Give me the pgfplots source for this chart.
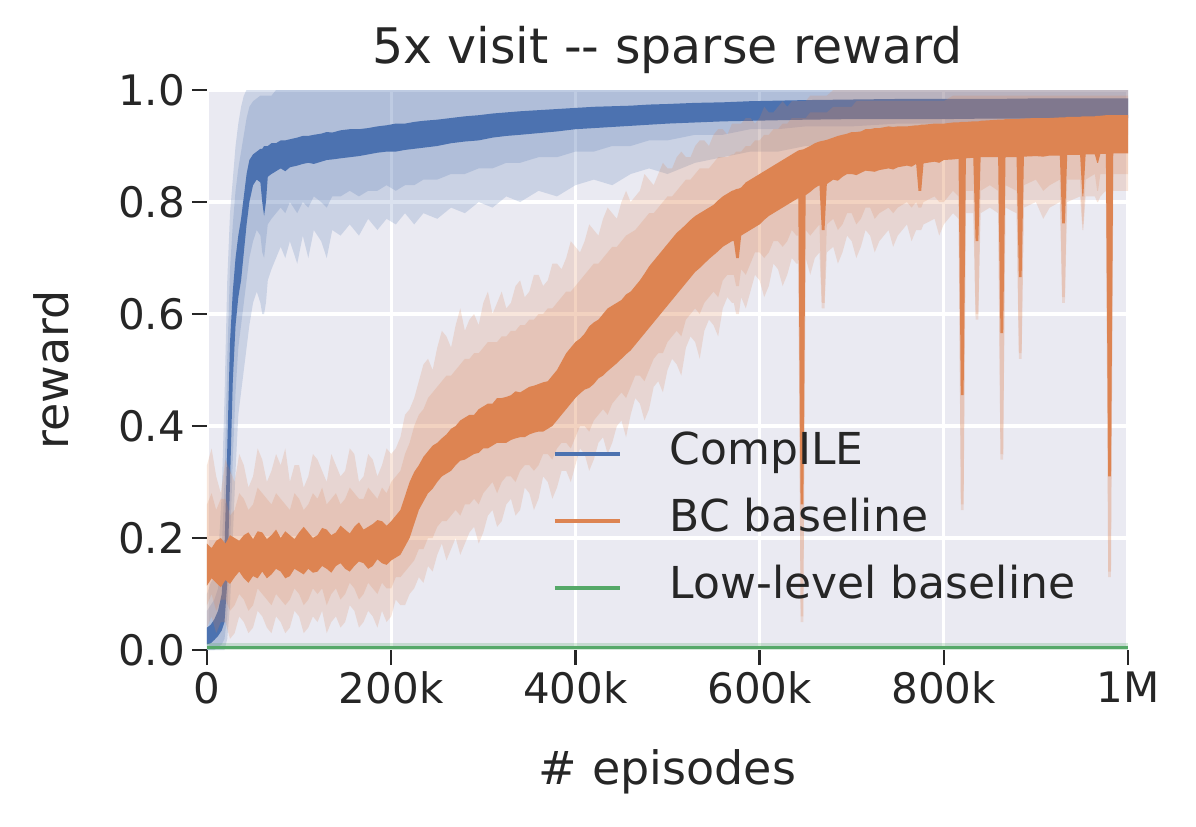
\documentclass[border=0pt]{standalone}
\usepackage{pgfplots}
\pgfplotsset{compat=1.18}
\usepgfplotslibrary{fillbetween}
\usepackage{pgfplotstable}
\usepackage{fontspec}
\setmainfont{DejaVu Sans}

\definecolor{bgc}{HTML}{EAEAF2}
\definecolor{cblue}{HTML}{4C72B0}
\definecolor{corange}{HTML}{DD8452}
\definecolor{cgreen}{HTML}{55A868}
\definecolor{txt}{HTML}{262626}

% x in thousands of episodes; ol/oh outer band, il/ih inner band, dl/dh mean line
\pgfplotstableread{
x ol il dl dh ih oh
0 0.00 0.00 0.010 0.040 0.07 0.10
4 0.00 0.00 0.012 0.045 0.08 0.12
8 0.00 0.00 0.018 0.055 0.09 0.13
12 0.00 0.005 0.025 0.07 0.11 0.16
16 0.00 0.01 0.035 0.10 0.18 0.28
19 0.00 0.02 0.05 0.18 0.30 0.45
22 0.02 0.06 0.12 0.36 0.52 0.66
25 0.08 0.18 0.30 0.55 0.68 0.78
28 0.20 0.34 0.48 0.64 0.76 0.84
31 0.32 0.46 0.58 0.70 0.82 0.90
34 0.42 0.54 0.63 0.74 0.86 0.94
37 0.46 0.58 0.66 0.77 0.89 0.97
40 0.50 0.62 0.71 0.81 0.92 0.99
43 0.54 0.66 0.76 0.85 0.95 1.0
46 0.58 0.70 0.80 0.875 0.97 1.0
50 0.62 0.73 0.83 0.885 0.98 1.0
54 0.64 0.75 0.84 0.89 0.985 1.0
58 0.62 0.74 0.835 0.895 0.99 1.0
60 0.60 0.71 0.80 0.895 0.99 1.0
62 0.60 0.70 0.775 0.90 0.99 1.0
64 0.62 0.73 0.80 0.90 0.99 1.0
66 0.66 0.76 0.845 0.90 0.99 1.0
70 0.68 0.77 0.85 0.905 0.99 1.0
75 0.70 0.78 0.855 0.905 1.0 1.0
80 0.72 0.79 0.86 0.91 1.0 1.0
85 0.70 0.78 0.855 0.91 1.0 1.0
90 0.73 0.80 0.862 0.912 1.0 1.0
98 0.69 0.78 0.865 0.915 1.0 1.0
104 0.74 0.80 0.868 0.918 1.0 1.0
110 0.70 0.79 0.87 0.918 1.0 1.0
116 0.75 0.81 0.868 0.92 1.0 1.0
124 0.73 0.80 0.872 0.922 1.0 1.0
130 0.70 0.79 0.875 0.925 1.0 1.0
136 0.75 0.81 0.876 0.924 1.0 1.0
145 0.74 0.81 0.878 0.928 1.0 1.0
155 0.76 0.82 0.88 0.93 1.0 1.0
165 0.74 0.81 0.882 0.93 1.0 1.0
175 0.77 0.82 0.885 0.932 1.0 1.0
185 0.75 0.82 0.888 0.935 1.0 1.0
195 0.77 0.83 0.89 0.937 1.0 1.0
205 0.76 0.82 0.89 0.94 1.0 1.0
215 0.78 0.83 0.893 0.94 1.0 1.0
225 0.76 0.83 0.895 0.943 1.0 1.0
235 0.78 0.84 0.897 0.945 1.0 1.0
250 0.77 0.84 0.90 0.947 1.0 1.0
265 0.79 0.85 0.905 0.95 1.0 1.0
280 0.78 0.85 0.908 0.953 1.0 1.0
295 0.80 0.86 0.91 0.955 1.0 1.0
310 0.79 0.86 0.915 0.958 1.0 1.0
325 0.81 0.87 0.918 0.96 1.0 1.0
340 0.80 0.87 0.92 0.962 1.0 1.0
360 0.82 0.88 0.923 0.964 1.0 1.0
380 0.81 0.88 0.926 0.966 1.0 1.0
400 0.83 0.89 0.93 0.968 1.0 1.0
420 0.84 0.89 0.932 0.97 1.0 1.0
440 0.83 0.90 0.934 0.971 1.0 1.0
460 0.85 0.90 0.936 0.972 1.0 1.0
480 0.86 0.91 0.938 0.974 1.0 1.0
500 0.85 0.91 0.94 0.975 1.0 1.0
530 0.87 0.92 0.942 0.977 1.0 1.0
560 0.88 0.92 0.944 0.978 1.0 1.0
590 0.89 0.93 0.945 0.98 1.0 1.0
620 0.89 0.93 0.946 0.981 1.0 1.0
650 0.90 0.935 0.947 0.982 1.0 1.0
700 0.90 0.935 0.948 0.983 1.0 1.0
750 0.91 0.94 0.948 0.984 1.0 1.0
800 0.91 0.94 0.948 0.984 1.0 1.0
850 0.915 0.94 0.949 0.984 1.0 1.0
900 0.92 0.94 0.949 0.985 1.0 1.0
950 0.92 0.945 0.95 0.985 1.0 1.0
1000 0.92 0.945 0.95 0.985 1.0 1.0
}\compile

\pgfplotstableread{
x ol il dl dh ih oh
0 0.04 0.08 0.115 0.19 0.26 0.33
5 0.06 0.10 0.128 0.182 0.28 0.36
10 0.03 0.07 0.12 0.195 0.25 0.31
15 0.05 0.09 0.112 0.2 0.27 0.28
20 0.05 0.09 0.125 0.19 0.27 0.34
25 0.02 0.07 0.118 0.205 0.24 0.32
30 0.03 0.08 0.13 0.20 0.25 0.30
35 0.06 0.10 0.14 0.195 0.28 0.35
40 0.05 0.09 0.128 0.205 0.27 0.33
45 0.03 0.07 0.12 0.21 0.25 0.29
50 0.04 0.08 0.132 0.198 0.26 0.31
55 0.07 0.11 0.128 0.212 0.29 0.36
60 0.06 0.10 0.14 0.21 0.28 0.34
65 0.04 0.09 0.128 0.198 0.27 0.30
70 0.03 0.08 0.135 0.205 0.26 0.32
75 0.06 0.10 0.145 0.215 0.28 0.35
80 0.05 0.09 0.14 0.20 0.27 0.33
85 0.03 0.08 0.128 0.212 0.26 0.36
90 0.04 0.09 0.132 0.205 0.25 0.30
95 0.07 0.11 0.145 0.198 0.28 0.33
100 0.06 0.10 0.14 0.21 0.27 0.33
105 0.03 0.08 0.135 0.22 0.25 0.29
110 0.04 0.09 0.145 0.21 0.26 0.31
115 0.06 0.11 0.138 0.2 0.28 0.35
120 0.05 0.10 0.14 0.205 0.27 0.34
125 0.07 0.11 0.15 0.218 0.29 0.32
130 0.03 0.08 0.145 0.215 0.26 0.30
135 0.05 0.10 0.138 0.205 0.27 0.35
140 0.06 0.11 0.15 0.21 0.28 0.33
145 0.04 0.09 0.155 0.222 0.26 0.31
150 0.05 0.10 0.145 0.215 0.27 0.32
155 0.08 0.12 0.14 0.208 0.29 0.36
160 0.07 0.11 0.15 0.22 0.28 0.35
165 0.04 0.09 0.158 0.228 0.27 0.30
170 0.05 0.10 0.155 0.215 0.27 0.31
175 0.07 0.12 0.145 0.22 0.29 0.35
180 0.06 0.11 0.15 0.225 0.28 0.34
185 0.04 0.10 0.162 0.232 0.27 0.31
190 0.07 0.12 0.155 0.23 0.29 0.33
195 0.05 0.11 0.152 0.222 0.28 0.36
200 0.06 0.11 0.16 0.23 0.30 0.35
205 0.09 0.13 0.165 0.24 0.31 0.36
210 0.08 0.13 0.17 0.25 0.32 0.38
215 0.08 0.14 0.185 0.275 0.35 0.42
220 0.10 0.15 0.20 0.30 0.37 0.43
225 0.11 0.16 0.225 0.318 0.40 0.45
230 0.13 0.18 0.25 0.33 0.42 0.48
235 0.12 0.18 0.265 0.345 0.43 0.51
240 0.15 0.20 0.28 0.355 0.45 0.52
245 0.14 0.20 0.288 0.365 0.46 0.50
250 0.17 0.22 0.30 0.37 0.47 0.54
255 0.19 0.23 0.31 0.378 0.48 0.57
260 0.16 0.23 0.315 0.385 0.49 0.56
265 0.18 0.24 0.32 0.395 0.49 0.54
270 0.20 0.25 0.33 0.40 0.50 0.58
275 0.17 0.24 0.338 0.41 0.51 0.61
280 0.19 0.26 0.34 0.415 0.52 0.57
285 0.21 0.26 0.345 0.42 0.52 0.59
290 0.22 0.27 0.35 0.42 0.53 0.60
295 0.19 0.26 0.352 0.43 0.53 0.58
300 0.21 0.28 0.36 0.435 0.54 0.62
305 0.24 0.29 0.36 0.44 0.55 0.64
310 0.25 0.30 0.365 0.44 0.55 0.60
315 0.22 0.28 0.37 0.45 0.55 0.62
320 0.23 0.30 0.37 0.45 0.56 0.64
325 0.26 0.31 0.37 0.452 0.56 0.61
330 0.27 0.31 0.375 0.455 0.57 0.62
335 0.24 0.30 0.378 0.462 0.57 0.65
340 0.25 0.32 0.38 0.46 0.58 0.66
345 0.29 0.33 0.38 0.465 0.58 0.63
350 0.28 0.33 0.385 0.47 0.59 0.64
355 0.25 0.32 0.388 0.472 0.59 0.67
360 0.27 0.33 0.39 0.475 0.60 0.67
365 0.31 0.35 0.39 0.478 0.60 0.65
370 0.30 0.35 0.395 0.48 0.61 0.66
375 0.27 0.34 0.40 0.49 0.61 0.69
380 0.29 0.36 0.41 0.50 0.62 0.69
385 0.32 0.37 0.42 0.515 0.63 0.68
390 0.32 0.37 0.43 0.53 0.64 0.70
395 0.30 0.36 0.44 0.54 0.64 0.73
400 0.33 0.38 0.45 0.55 0.65 0.72
405 0.36 0.40 0.458 0.556 0.66 0.71
410 0.35 0.40 0.465 0.565 0.67 0.73
415 0.32 0.39 0.468 0.578 0.68 0.76
420 0.34 0.41 0.475 0.585 0.69 0.75
425 0.37 0.42 0.485 0.59 0.69 0.74
430 0.38 0.43 0.49 0.60 0.70 0.77
435 0.35 0.42 0.498 0.61 0.71 0.79
440 0.37 0.44 0.505 0.615 0.72 0.78
445 0.40 0.45 0.512 0.62 0.72 0.77
450 0.41 0.46 0.52 0.625 0.73 0.80
455 0.38 0.45 0.528 0.635 0.74 0.82
460 0.42 0.47 0.535 0.64 0.745 0.80
465 0.45 0.49 0.545 0.65 0.75 0.81
470 0.44 0.49 0.555 0.66 0.76 0.82
475 0.41 0.48 0.565 0.672 0.77 0.85
480 0.43 0.50 0.575 0.685 0.78 0.84
485 0.47 0.52 0.585 0.695 0.78 0.83
490 0.48 0.53 0.595 0.705 0.79 0.85
495 0.46 0.53 0.605 0.715 0.80 0.87
500 0.50 0.55 0.615 0.725 0.81 0.86
505 0.52 0.56 0.625 0.735 0.81 0.86
510 0.51 0.57 0.635 0.745 0.82 0.88
515 0.49 0.56 0.645 0.752 0.83 0.89
520 0.54 0.59 0.655 0.76 0.84 0.88
525 0.56 0.60 0.665 0.768 0.84 0.88
530 0.55 0.61 0.675 0.775 0.85 0.90
535 0.52 0.60 0.682 0.78 0.86 0.91
540 0.57 0.62 0.69 0.785 0.86 0.91
545 0.59 0.63 0.698 0.79 0.86 0.90
550 0.58 0.64 0.705 0.795 0.87 0.92
555 0.56 0.63 0.712 0.803 0.88 0.93
560 0.61 0.66 0.72 0.81 0.88 0.93
565 0.63 0.67 0.725 0.815 0.88 0.92
570 0.62 0.67 0.73 0.82 0.885 0.94
572 0.62 0.67 0.73 0.821 0.885 0.94
574.5 0.60 0.65 0.70 0.823 0.89 0.94
577.5 0.60 0.65 0.70 0.824 0.89 0.94
580 0.63 0.68 0.74 0.826 0.89 0.94
585 0.61 0.67 0.745 0.835 0.90 0.95
590 0.64 0.69 0.75 0.84 0.90 0.95
595 0.67 0.71 0.755 0.845 0.91 0.94
600 0.66 0.71 0.76 0.85 0.91 0.95
605 0.63 0.70 0.768 0.855 0.92 0.97
610 0.65 0.71 0.775 0.86 0.92 0.96
615 0.69 0.73 0.78 0.865 0.93 0.96
620 0.68 0.73 0.785 0.87 0.93 0.97
625 0.65 0.72 0.79 0.875 0.94 0.98
630 0.67 0.73 0.795 0.88 0.94 0.97
635 0.70 0.75 0.80 0.885 0.95 0.98
640 0.69 0.74 0.805 0.89 0.95 0.98
642 0.69 0.74 0.807 0.892 0.95 0.98
644.5 0.05 0.06 0.26 0.893 0.95 0.98
647.5 0.05 0.06 0.26 0.894 0.95 0.98
650 0.70 0.75 0.812 0.896 0.95 0.98
655 0.67 0.74 0.818 0.90 0.96 0.99
660 0.70 0.75 0.825 0.905 0.96 0.99
665 0.71 0.76 0.83 0.908 0.96 0.99
667.5 0.61 0.62 0.75 0.909 0.96 0.99
670.5 0.61 0.62 0.75 0.91 0.96 0.99
673 0.71 0.76 0.832 0.911 0.96 0.99
680 0.72 0.77 0.84 0.915 0.97 1.0
685 0.69 0.75 0.838 0.918 0.97 1.0
690 0.71 0.76 0.845 0.92 0.97 1.0
695 0.74 0.78 0.85 0.922 0.97 1.0
700 0.73 0.78 0.85 0.925 0.97 1.0
705 0.70 0.76 0.848 0.925 0.98 1.0
710 0.72 0.77 0.852 0.926 0.98 1.0
715 0.75 0.79 0.856 0.93 0.98 1.0
720 0.74 0.79 0.855 0.93 0.98 1.0
725 0.71 0.77 0.854 0.932 0.98 1.0
730 0.73 0.78 0.857 0.932 0.98 1.0
740 0.75 0.79 0.86 0.935 0.98 1.0
745 0.72 0.78 0.858 0.934 0.98 1.0
750 0.74 0.79 0.862 0.935 0.98 1.0
760 0.76 0.80 0.865 0.935 0.98 1.0
765 0.73 0.79 0.863 0.936 0.98 1.0
770 0.75 0.80 0.868 0.937 0.98 1.0
772.5 0.75 0.79 0.82 0.937 0.98 1.0
775.5 0.75 0.79 0.82 0.938 0.98 1.0
778 0.76 0.80 0.869 0.938 0.98 1.0
790 0.77 0.81 0.872 0.94 0.98 1.0
795 0.74 0.80 0.87 0.94 0.98 1.0
800 0.76 0.80 0.875 0.94 0.98 1.0
810 0.78 0.82 0.876 0.942 0.99 1.0
816 0.77 0.81 0.877 0.942 0.99 1.0
818.5 0.25 0.26 0.455 0.943 0.99 1.0
821.5 0.25 0.26 0.455 0.943 0.99 1.0
824 0.78 0.82 0.878 0.943 0.99 1.0
832 0.78 0.82 0.879 0.944 0.99 1.0
834.5 0.59 0.60 0.73 0.944 0.99 1.0
837.5 0.59 0.60 0.73 0.944 0.99 1.0
840 0.78 0.82 0.88 0.945 0.99 1.0
850 0.79 0.83 0.88 0.946 0.99 1.0
859 0.78 0.82 0.88 0.947 0.99 1.0
861.5 0.34 0.35 0.566 0.947 0.99 1.0
864.5 0.34 0.35 0.566 0.947 0.99 1.0
867 0.79 0.83 0.88 0.948 0.99 1.0
879 0.78 0.82 0.88 0.948 0.99 1.0
881.5 0.52 0.53 0.666 0.948 0.99 1.0
884.5 0.52 0.53 0.666 0.949 0.99 1.0
887 0.79 0.83 0.881 0.949 0.99 1.0
900 0.80 0.84 0.882 0.95 0.99 1.0
908 0.77 0.82 0.881 0.95 0.99 1.0
915 0.79 0.83 0.883 0.95 0.99 1.0
926 0.80 0.84 0.883 0.951 0.99 1.0
928.5 0.62 0.63 0.762 0.951 0.99 1.0
931.5 0.62 0.63 0.762 0.951 0.99 1.0
934 0.80 0.84 0.884 0.952 0.99 1.0
948 0.81 0.84 0.884 0.952 0.99 1.0
950.5 0.75 0.76 0.81 0.953 0.99 1.0
951.5 0.75 0.76 0.81 0.953 0.99 1.0
954 0.81 0.84 0.885 0.953 0.99 1.0
964 0.81 0.85 0.885 0.953 0.99 1.0
966.5 0.80 0.82 0.87 0.954 0.99 1.0
967.5 0.80 0.82 0.87 0.954 0.99 1.0
970 0.81 0.85 0.886 0.954 0.99 1.0
976 0.82 0.85 0.886 0.955 0.99 1.0
978.5 0.13 0.14 0.31 0.955 0.99 1.0
981.5 0.13 0.14 0.31 0.955 0.99 1.0
984 0.82 0.85 0.887 0.955 0.99 1.0
1000 0.82 0.85 0.887 0.955 0.99 1.0
}\bc

\begin{document}
\begin{tikzpicture}
\begin{axis}[
  scale only axis, width=460.5pt, height=280pt,
  xmin=0, xmax=1000, ymin=0, ymax=1,
  axis background/.style={fill=bgc},
  axis line style={draw=none},
  grid=major, grid style={white, line width=1.6pt},
  xtick={0,200,400,600,800,1000},
  xticklabels={0,200k,400k,600k,800k,1M},
  ytick={0,0.2,0.4,0.6,0.8,1},
  yticklabels={0.0,0.2,0.4,0.6,0.8,1.0},
  xtick pos=left, ytick pos=left,
  tick align=outside, major tick length=7.5pt,
  every tick/.style={txt, line width=1.3pt},
  tick label style={font=\fontsize{21}{25}\selectfont, text=txt},
  title={5x visit -\kern0pt- sparse reward},
  title style={font=\fontsize{24.5}{28}\selectfont, text=txt, at={(axis description cs:0.5,1)}, anchor=south, inner sep=0pt, yshift=2pt},
  xlabel={\# episodes},
  xlabel style={font=\fontsize{23}{27}\selectfont, text=txt, at={(axis description cs:0.5,-0.241)}, anchor=base},
  ylabel={reward},
  ylabel style={font=\fontsize{23}{27}\selectfont, text=txt, at={(axis description cs:-0.1694,0.5)}, anchor=center},
  legend style={at={(axis cs:375,0.389)}, anchor=north west, draw=none, fill=none, inner sep=0pt,
    font=\fontsize{22}{26}\selectfont, text=txt, row sep=12.5pt,
    nodes={inner sep=0pt, text height=16pt, text depth=5pt},
    /tikz/every odd column/.append style={column sep=24pt}},
  legend cell align=left,
  legend image code/.code={\draw[#1, line width=2pt] (0pt,0pt) -- (32.5pt,0pt);},
]
\coordinate (sw) at (rel axis cs:0,0);
\coordinate (ne) at (rel axis cs:1,1);

\addlegendimage{cblue}
\addlegendentry{CompILE}
\addlegendimage{corange}
\addlegendentry{BC baseline}
\addlegendimage{cgreen}
\addlegendentry{Low-level baseline}

% CompILE
\addplot[draw=none, forget plot, name path=bol] table[x=x, y=ol] {\compile};
\addplot[draw=none, forget plot, name path=bil] table[x=x, y=il] {\compile};
\addplot[draw=none, forget plot, name path=bdl] table[x=x, y=dl] {\compile};
\addplot[draw=none, forget plot, name path=bdh] table[x=x, y=dh] {\compile};
\addplot[draw=none, forget plot, name path=bih] table[x=x, y=ih] {\compile};
\addplot[draw=none, forget plot, name path=boh] table[x=x, y=oh] {\compile};
\addplot[draw=none, fill=cblue, fill opacity=0.2, forget plot] fill between[of=bol and boh];
\addplot[draw=none, fill=cblue, fill opacity=0.2, forget plot] fill between[of=bil and bih];
\addplot[draw=none, fill=cblue, forget plot] fill between[of=bdl and bdh];

% BC baseline
\addplot[draw=none, forget plot, name path=col] table[x=x, y=ol] {\bc};
\addplot[draw=none, forget plot, name path=cil] table[x=x, y=il] {\bc};
\addplot[draw=none, forget plot, name path=cdl] table[x=x, y=dl] {\bc};
\addplot[draw=none, forget plot, name path=cdh] table[x=x, y=dh] {\bc};
\addplot[draw=none, forget plot, name path=cih] table[x=x, y=ih] {\bc};
\addplot[draw=none, forget plot, name path=coh] table[x=x, y=oh] {\bc};
\addplot[draw=none, fill=corange, fill opacity=0.2, forget plot] fill between[of=col and coh];
\addplot[draw=none, fill=corange, fill opacity=0.2, forget plot] fill between[of=cil and cih];
\addplot[draw=none, fill=corange, forget plot] fill between[of=cdl and cdh];

% Low-level baseline
\addplot[draw=none, fill=cgreen, fill opacity=0.25, forget plot] coordinates {(0,0) (1000,0) (1000,0.013) (0,0.013)} -- cycle;
\addplot[cgreen, line width=1.5pt, forget plot] coordinates {(0,0.005) (1000,0.005)};
\end{axis}
\pgfresetboundingbox
\path[use as bounding box] ([shift={(-103.5pt,-88pt)}]sw) rectangle ([shift={(34pt,45pt)}]ne);
\end{tikzpicture}
\end{document}
